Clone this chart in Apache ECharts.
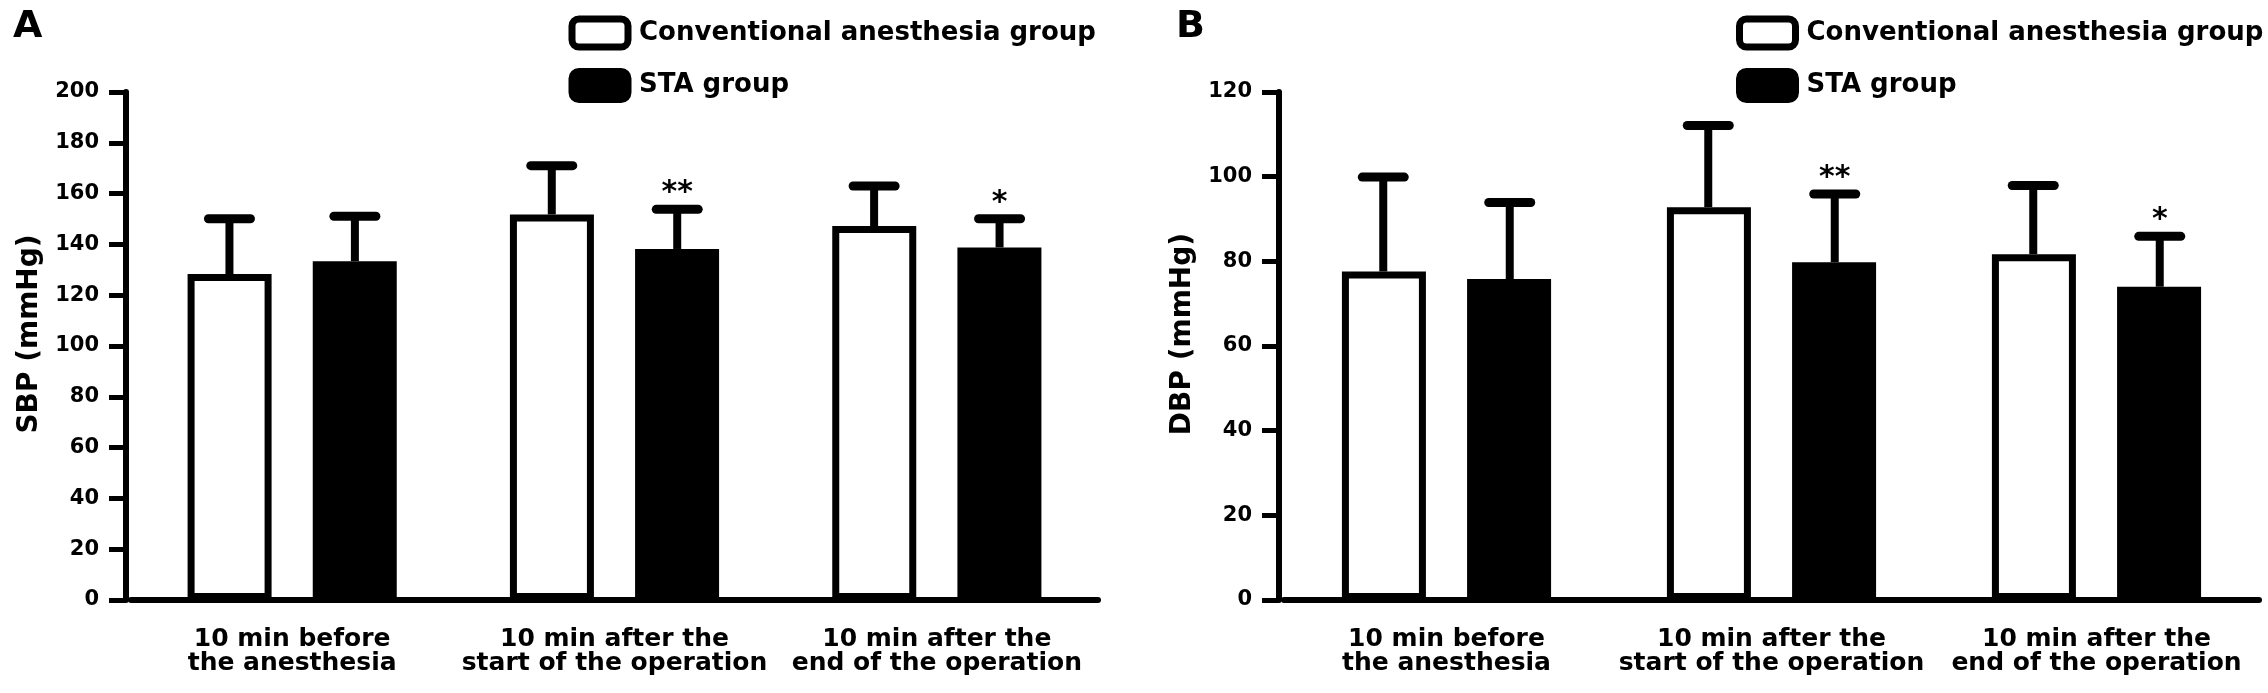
<!DOCTYPE html>
<html>
<head>
<meta charset="utf-8">
<script src="https://cdn.jsdelivr.net/npm/echarts@6/dist/echarts.min.js"></script>
<style>
html,body{margin:0;padding:0;background:#fff;}
#chart{width:2268px;height:693px;}
</style>
</head>
<body>
<div id="chart"></div>
<script>
// ---- data ----
var categories = ['10 min before\nthe anesthesia', '10 min after the\nstart of the operation', '10 min after the\nend of the operation'];
var seriesNames = ['Conventional anesthesia group', 'STA group'];
// Panel A: SBP (mmHg), mean and SD
var sbpConvMean = [128.3, 151.8, 147.2];
var sbpConvSD   = [21.8, 19.2, 15.8];
var sbpStaMean  = [133.4, 138.2, 138.8];
var sbpStaSD    = [17.7, 15.6, 11.3];
var sbpSig      = ['', '**', '*'];
// Panel B: DBP (mmHg), mean and SD
var dbpConvMean = [77.6, 92.8, 81.7];
var dbpConvSD   = [22.3, 19.3, 16.2];
var dbpStaMean  = [75.8, 79.8, 74.0];
var dbpStaSD    = [18.1, 16.1, 11.9];
var dbpSig      = ['', '**', '*'];
var sbpTicks = {min: 0, max: 200, interval: 20};
var dbpTicks = {min: 0, max: 120, interval: 20};

var FONT = "'DejaVu Sans', sans-serif";

function errRenderer(sign, marks) {
  return function (params, api) {
    var i = api.value(0), mean = api.value(1), sd = api.value(2);
    var base = api.coord([i, mean]);
    var top = api.coord([i, mean + sd]);
    var band = api.size([1, 0])[0];
    var x = base[0] + sign * band * 0.1946;
    var children = [
      {type: 'line', shape: {x1: x, y1: base[1], x2: x, y2: top[1]}, style: {stroke: '#000', lineWidth: 8}},
      {type: 'line', shape: {x1: x - 21, y1: top[1], x2: x + 21, y2: top[1]}, style: {stroke: '#000', lineWidth: 9, lineCap: 'round'}}
    ];
    if (marks && marks[i]) {
      children.push({type: 'text', x: x, y: top[1] - 16,
        style: {text: marks[i], fill: '#000', font: 'bold 30px ' + FONT, textAlign: 'center', textVerticalAlign: 'middle'}});
    }
    return {type: 'group', children: children};
  };
}

function errData(mean, sd) {
  return mean.map(function (m, i) { return [i, m, sd[i]]; });
}

function xAxisFor(gi) {
  return {
    type: 'category', gridIndex: gi, data: categories,
    axisLine: {lineStyle: {color: '#000', width: 6}},
    axisTick: {alignWithLabel: true, length: 14, lineStyle: {color: '#000', width: 5}},
    axisLabel: {color: '#000', fontFamily: FONT, fontWeight: 'bold', fontSize: 25, lineHeight: 24, margin: 27, interval: 0}
  };
}
function yAxisFor(gi, t, name) {
  return {
    type: 'value', gridIndex: gi, min: t.min, max: t.max, interval: t.interval, offset: 5,
    name: name, nameLocation: 'middle', nameGap: 82,
    nameTextStyle: {color: '#000', fontFamily: FONT, fontWeight: 'bold', fontSize: 28, padding: [0, 0, 0, 24]},
    splitLine: {show: false},
    axisLine: {show: true, lineStyle: {color: '#000', width: 6}},
    axisTick: {show: true, length: 17, lineStyle: {color: '#000', width: 5}},
    axisLabel: {color: '#000', fontFamily: FONT, fontWeight: 'bold', fontSize: 21, margin: 27}
  };
}
function barSeries(name, gi, data, white) {
  return {
    type: 'bar', name: name, xAxisIndex: gi, yAxisIndex: gi, data: data,
    barWidth: 84, barGap: '49%', z: 2,
    itemStyle: {color: white ? '#fff' : '#000', borderColor: '#000', borderWidth: 7},
    emphasis: {disabled: true}, animation: false
  };
}
function errSeries(gi, mean, sd, sign, marks) {
  return {
    type: 'custom', xAxisIndex: gi, yAxisIndex: gi, data: errData(mean, sd), z: 3,
    renderItem: errRenderer(sign, marks), animation: false, silent: true
  };
}
function legendAt(left) {
  return {
    orient: 'vertical', left: left, top: 15.5, padding: 0,
    itemWidth: 56, itemHeight: 28, itemGap: 17.5,
    textStyle: {color: '#000', fontFamily: FONT, fontWeight: 'bold', fontSize: 26, lineHeight: 28, padding: [0, 0, 0, 6]},
    data: [
      {name: seriesNames[0], icon: 'roundRect', itemStyle: {color: '#fff', borderColor: '#000', borderWidth: 7}},
      {name: seriesNames[1], icon: 'roundRect', itemStyle: {color: '#000', borderColor: '#000', borderWidth: 7}}
    ],
    selectedMode: false
  };
}

var chart = echarts.init(document.getElementById('chart'), null, {renderer: 'canvas'});
chart.setOption({
  animation: false,
  backgroundColor: '#fff',
  title: [
    {text: 'A', left: 13, top: 8, padding: 0, textStyle: {color: '#000', fontFamily: FONT, fontWeight: 'bold', fontSize: 38}},
    {text: 'B', left: 1176, top: 8, padding: 0, textStyle: {color: '#000', fontFamily: FONT, fontWeight: 'bold', fontSize: 38}}
  ],
  legend: [legendAt(568.5), legendAt(1736)],
  grid: [
    {left: 131, width: 967, top: 92, bottom: 93},
    {left: 1284, width: 975, top: 92, bottom: 93}
  ],
  xAxis: [xAxisFor(0), xAxisFor(1)],
  yAxis: [yAxisFor(0, sbpTicks, 'SBP (mmHg)'), yAxisFor(1, dbpTicks, 'DBP (mmHg)')],
  series: [
    barSeries(seriesNames[0], 0, sbpConvMean, true),
    barSeries(seriesNames[1], 0, sbpStaMean, false),
    errSeries(0, sbpConvMean, sbpConvSD, -1, null),
    errSeries(0, sbpStaMean, sbpStaSD, 1, sbpSig),
    barSeries(seriesNames[0], 1, dbpConvMean, true),
    barSeries(seriesNames[1], 1, dbpStaMean, false),
    errSeries(1, dbpConvMean, dbpConvSD, -1, null),
    errSeries(1, dbpStaMean, dbpStaSD, 1, dbpSig)
  ]
});
</script>
</body>
</html>
